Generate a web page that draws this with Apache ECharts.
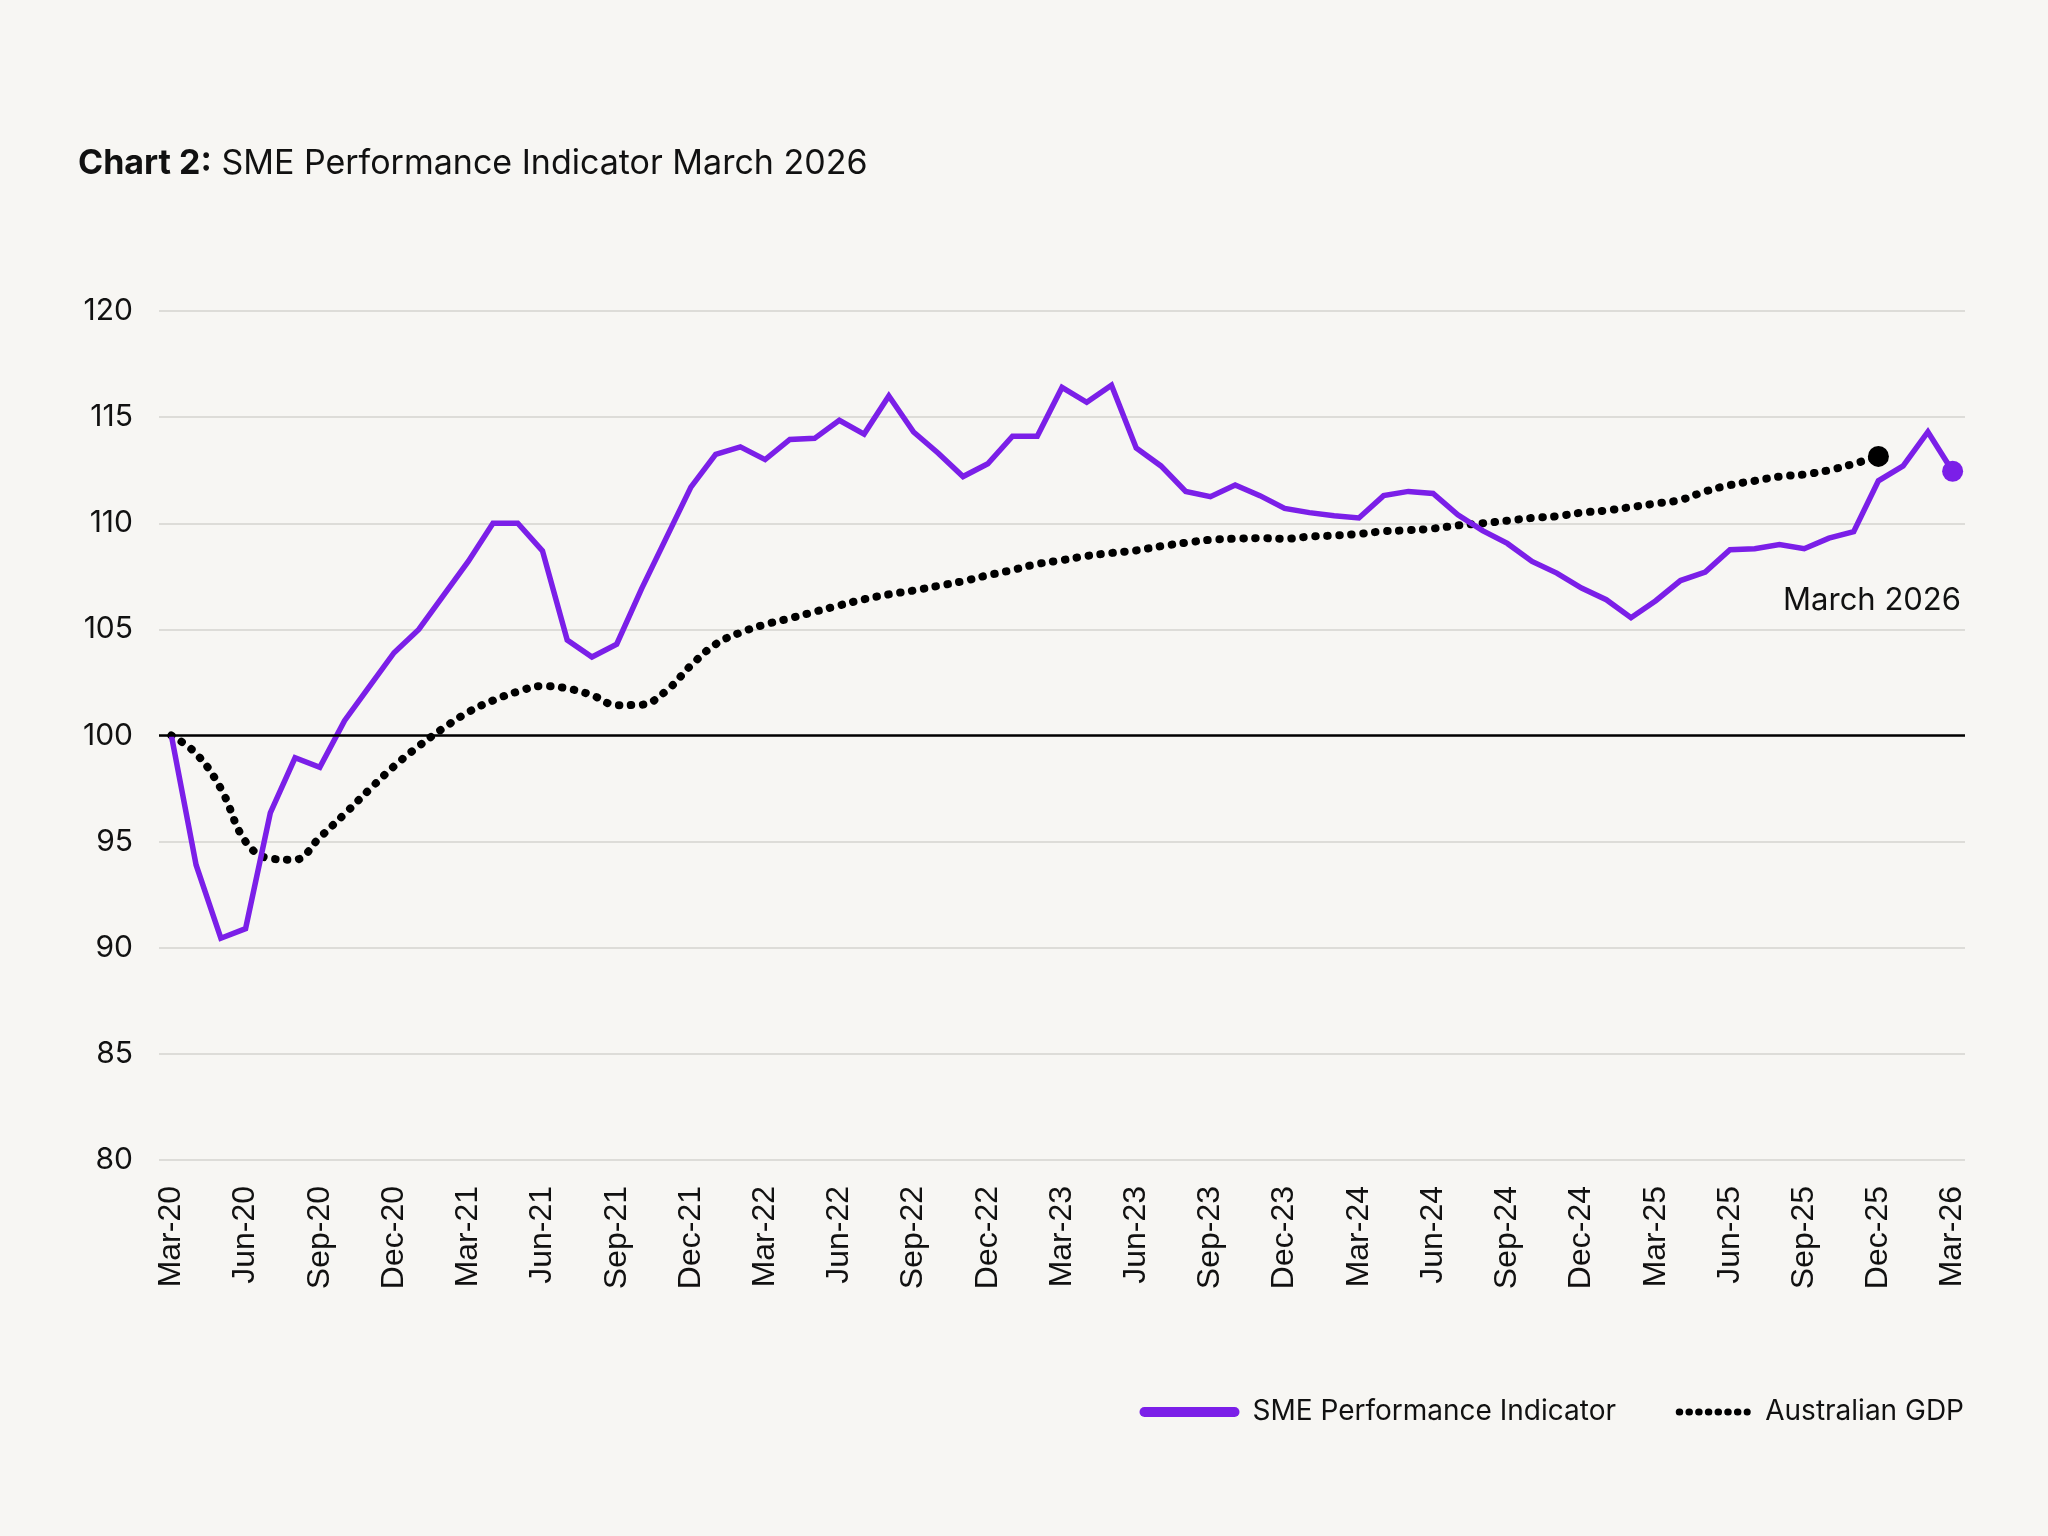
<!DOCTYPE html>
<html>
<head>
<meta charset="utf-8">
<title>SME Performance Indicator</title>
<script src="https://cdn.jsdelivr.net/npm/echarts@6/dist/echarts.min.js"></script>
<style>
  html, body { margin: 0; padding: 0; background: #F7F6F3; }
  #chart { width: 2048px; height: 1536px; }
</style>
</head>
<body>
<div id="chart"></div>
<script>
// months, Mar-20 .. Mar-26
var months = [
  'Mar-20', 'Apr-20', 'May-20', 'Jun-20', 'Jul-20', 'Aug-20', 'Sep-20', 'Oct-20', 'Nov-20', 'Dec-20',
  'Jan-21', 'Feb-21', 'Mar-21', 'Apr-21', 'May-21', 'Jun-21', 'Jul-21', 'Aug-21', 'Sep-21', 'Oct-21', 'Nov-21', 'Dec-21',
  'Jan-22', 'Feb-22', 'Mar-22', 'Apr-22', 'May-22', 'Jun-22', 'Jul-22', 'Aug-22', 'Sep-22', 'Oct-22', 'Nov-22', 'Dec-22',
  'Jan-23', 'Feb-23', 'Mar-23', 'Apr-23', 'May-23', 'Jun-23', 'Jul-23', 'Aug-23', 'Sep-23', 'Oct-23', 'Nov-23', 'Dec-23',
  'Jan-24', 'Feb-24', 'Mar-24', 'Apr-24', 'May-24', 'Jun-24', 'Jul-24', 'Aug-24', 'Sep-24', 'Oct-24', 'Nov-24', 'Dec-24',
  'Jan-25', 'Feb-25', 'Mar-25', 'Apr-25', 'May-25', 'Jun-25', 'Jul-25', 'Aug-25', 'Sep-25', 'Oct-25', 'Nov-25', 'Dec-25',
  'Jan-26', 'Feb-26', 'Mar-26'
]

// SME Performance Indicator (index, Mar-20 = 100)
var smeValues = [
  100, 93.9, 90.45, 90.9, 96.35, 98.95, 98.5, 100.7, 102.3, 103.9,
  105.0, 106.6, 108.2, 110.0, 110.0, 108.7, 104.5, 103.7, 104.3, 106.9, 109.3, 111.7,
  113.25, 113.6, 113.0, 113.95, 114.0, 114.85, 114.2, 116.0, 114.3, 113.3, 112.2, 112.8,
  114.1, 114.1, 116.4, 115.7, 116.5, 113.55, 112.7, 111.5, 111.25, 111.8, 111.3, 110.7,
  110.5, 110.35, 110.25, 111.3, 111.5, 111.4, 110.4, 109.65, 109.05, 108.2, 107.65, 106.95,
  106.4, 105.55, 106.35, 107.3, 107.7, 108.75, 108.8, 109.0, 108.8, 109.3, 109.6, 112.0,
  112.7, 114.3, 112.45
]

// Australian GDP (index, Mar-20 = 100), to Dec-25
var gdpValues = [
  100, 99.15, 97.5, 95.0, 94.2, 94.15, 95.2, 96.3, 97.45, 98.55,
  99.5, 100.35, 101.1, 101.65, 102.07, 102.33, 102.22, 101.9, 101.43, 101.45, 102.1, 103.3,
  104.3, 104.85, 105.23, 105.52, 105.83, 106.13, 106.42, 106.65, 106.83, 107.05, 107.27, 107.55,
  107.8, 108.08, 108.26, 108.46, 108.6, 108.72, 108.92, 109.08, 109.22, 109.27, 109.3, 109.27,
  109.37, 109.42, 109.5, 109.62, 109.67, 109.75, 109.9, 110.0, 110.12, 110.25, 110.33, 110.5,
  110.6, 110.76, 110.93, 111.1, 111.5, 111.8, 112.0, 112.2, 112.3, 112.5, 112.8, 113.15
]

var yTicks = { min: 80, max: 120, step: 5 }

var PURPLE = '#7B1FE8'
var FONT = 'Inter, "Noto Sans", sans-serif'

var chart = echarts.init(document.getElementById('chart'))

var smeLast = smeValues.length - 1
var gdpLast = gdpValues.length - 1

var option = {
  backgroundColor: '#F7F6F3',
  animation: false,
  title: {
    left: 73,
    top: 142,
    text: '{b|Chart 2:} SME Performance Indicator March 2026',
    textStyle: {
      fontFamily: FONT,
      fontSize: 34,
      fontWeight: 'normal',
      color: '#111',
      rich: {
        b: { fontFamily: FONT, fontSize: 34, fontWeight: 'bold', color: '#111' }
      }
    }
  },
  grid: {
    left: 159,
    right: 83,
    top: 311,
    bottom: 376
  },
  legend: [
    {
      data: ['SME Performance Indicator'],
      right: 427,
      top: 1393,
      itemWidth: 90,
      itemHeight: 14,
      textStyle: { fontFamily: FONT, fontSize: 28, color: '#111', padding: [0, 0, 0, 13] },
      lineStyle: { width: 10, cap: 'round' },
      itemStyle: { opacity: 0 }
    },
    {
      data: ['Australian GDP'],
      right: 79,
      top: 1393,
      itemWidth: 68,
      itemHeight: 14,
      textStyle: { fontFamily: FONT, fontSize: 28, color: '#111', padding: [0, 0, 0, 13] },
      lineStyle: { width: 7, cap: 'round', type: [0.5, 9.2] },
      itemStyle: { opacity: 0 }
    }
  ],
  xAxis: {
    type: 'category',
    data: months,
    boundaryGap: true,
    axisLine: { show: false },
    axisTick: { show: false },
    axisLabel: {
      interval: 2,
      rotate: 90,
      margin: 26,
      fontFamily: '"Liberation Sans", Arial, sans-serif',
      fontSize: 32,
      color: '#111'
    }
  },
  yAxis: {
    type: 'value',
    min: yTicks.min,
    max: yTicks.max,
    interval: yTicks.step,
    axisLine: { show: false },
    axisTick: { show: false },
    axisLabel: {
      margin: 26,
      fontFamily: FONT,
      fontSize: 30,
      color: '#111'
    },
    splitLine: { lineStyle: { color: '#DDDCD8', width: 2 } }
  },
  graphic: [
    {
      type: 'text',
      right: 87,
      top: 585,
      style: {
        text: 'March 2026',
        font: '31px Inter, "Noto Sans", sans-serif',
        fill: '#111'
      }
    }
  ],
  series: [
    {
      name: 'Australian GDP',
      type: 'line',
      data: gdpValues,
      symbol: 'none',
      smooth: 0.4,
      z: 3,
      lineStyle: { color: '#000', width: 8, type: [0.5, 11.5], cap: 'round' },
      itemStyle: { color: '#000' },
      markPoint: {
        symbol: 'circle',
        symbolSize: 21,
        silent: true,
        label: { show: false },
        itemStyle: { color: '#000' },
        data: [{ coord: [gdpLast, gdpValues[gdpLast]] }]
      }
    },
    {
      name: 'SME Performance Indicator',
      type: 'line',
      data: smeValues,
      symbol: 'none',
      z: 4,
      lineStyle: { color: PURPLE, width: 5.5, join: 'miter' },
      itemStyle: { color: PURPLE },
      markLine: {
        silent: true,
        symbol: ['none', 'none'],
        label: { show: false },
        lineStyle: { color: '#000', width: 2.5, type: 'solid' },
        data: [{ yAxis: 100 }]
      },
      markPoint: {
        symbol: 'circle',
        symbolSize: 21,
        silent: true,
        label: { show: false },
        itemStyle: { color: PURPLE },
        data: [{ coord: [smeLast, smeValues[smeLast]] }]
      }
    }
  ]
}

chart.setOption(option)
</script>
</body>
</html>
